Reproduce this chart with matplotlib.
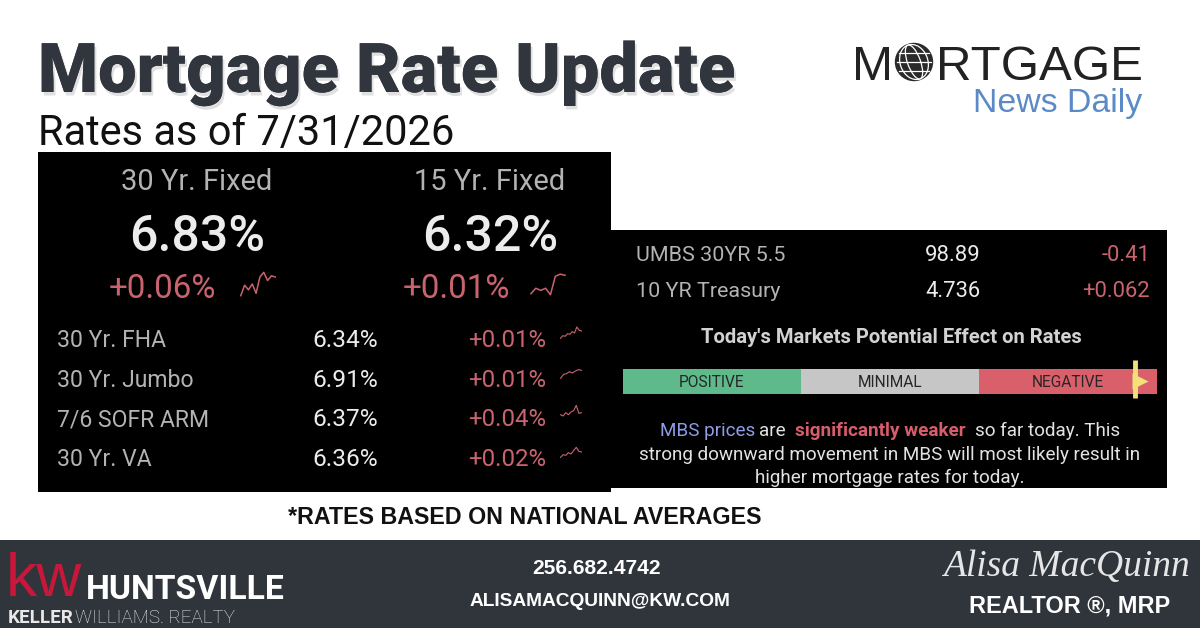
import matplotlib
matplotlib.use("Agg")
import matplotlib.pyplot as plt
from matplotlib.patches import Rectangle, Circle, Ellipse
import matplotlib.patheffects as pe
import numpy as np

# ---------------- data ----------------
title = "Mortgage Rate Update"
subtitle = "Rates as of 7/31/2026"

main_products = ["30 Yr. Fixed", "15 Yr. Fixed"]
main_rates = [6.83, 6.32]
main_changes = [0.06, 0.01]
spark_30fixed = [0.0, 0.45, 0.25, 0.5, 0.1, 0.8, 1.0, 0.65, 0.85, 0.8]
spark_15fixed = [0.1, 0.35, 0.25, 0.35, 0.05, 0.9, 1.0, 0.95]

row_products = ["30 Yr. FHA", "30 Yr. Jumbo", "7/6 SOFR ARM", "30 Yr. VA"]
row_rates = [6.34, 6.91, 6.37, 6.36]
row_changes = [0.01, 0.01, 0.04, 0.02]
row_sparks = [
    [0.1, 0.3, 0.25, 0.45, 0.4, 0.6, 0.5, 0.95, 0.7, 0.65],
    [0.1, 0.4, 0.45, 0.6, 0.5, 0.65, 0.75, 0.7],
    [0.3, 0.2, 0.45, 0.3, 0.5, 0.6, 1.0, 0.4, 0.45],
    [0.1, 0.3, 0.25, 0.45, 0.35, 0.6, 0.85, 0.55, 0.5],
]

market_names = ["UMBS 30YR 5.5", "10 YR Treasury"]
market_values = ["98.89", "4.736"]
market_changes = ["-0.41", "+0.062"]

gauge_labels = ["POSITIVE", "MINIMAL", "NEGATIVE"]
gauge_widths = [1, 1, 1]
gauge_marker = 2.876

effect_title = "Today's Markets Potential Effect on Rates"
note = "*RATES BASED ON NATIONAL AVERAGES"

# ---------------- style ----------------
W, H = 1200, 628
BLACK = "#000000"
PINK = "#c9646f"
GREY_TXT = "#b3b3b3"
WHITE_TXT = "#ececec"
DARK = "#31363e"
FOOT = "#30353c"
SANS = ["Liberation Sans", "DejaVu Sans"]
UI = ["Roboto", "DejaVu Sans"]


def pt(px):
    return px * 0.72


fig = plt.figure(figsize=(12, 6.28), dpi=100)
fig.patch.set_facecolor("white")
ax = fig.add_axes([0, 0, 1, 1])
ax.set_xlim(0, W)
ax.set_ylim(H, 0)
ax.axis("off")
renderer = fig.canvas.get_renderer()


def twidth(s, **kw):
    t = ax.text(0, 0, s, **kw)
    w = t.get_window_extent(renderer).width
    t.remove()
    return w


def fit_text(x, y, s, width, **kw):
    """Place text with its font size chosen so that it spans `width` pixels."""
    fs = kw.pop("fontsize", 20)
    w = twidth(s, fontsize=fs, **kw)
    return ax.text(x, y, s, fontsize=fs * width / w, **kw)


def px_axes(x0, y0, x1, y1):
    a = fig.add_axes([x0 / W, 1 - y1 / H, (x1 - x0) / W, (y1 - y0) / H])
    a.axis("off")
    a.patch.set_alpha(0)
    return a


def spark(x0, y0, x1, y1, vals, lw=1.0):
    a = px_axes(x0, y0, x1, y1)
    a.plot(range(len(vals)), vals, color=PINK, lw=lw, solid_joinstyle="round")
    a.set_xlim(-0.2, len(vals) - 0.8)
    a.set_ylim(-0.1, 1.1)


# ---------------- header ----------------
fit_text(38, 92, title, 697, fontsize=pt(80), fontweight="black", family=UI,
         color=DARK, ha="left", va="baseline",
         path_effects=[pe.withSimplePatchShadow(offset=(1.5, -2.5), shadow_rgbFace="#999999", alpha=0.3),
                       pe.Normal()])
fit_text(38, 145, subtitle, 417, fontsize=pt(40), family=UI, color="#111111",
         ha="left", va="baseline")

# Mortgage News Daily logo
fit_text(852, 80, "M", 41, fontsize=pt(51), family=SANS, color="#222222", ha="left", va="baseline")
gx, gy, gr = 914, 62, 18.5
ax.add_patch(Circle((gx, gy), gr, facecolor="#2a2a2a", edgecolor="#2a2a2a", lw=1))
for wfrac in [0.35, 0.75]:
    ax.add_patch(Ellipse((gx, gy), 2 * gr * wfrac, 2 * gr * 0.97, angle=-20,
                         fill=False, edgecolor="white", lw=0.9))
for dy in [-0.5, 0.0, 0.5]:
    half = gr * np.sqrt(1 - dy ** 2) * 0.92
    ax.plot([gx - half, gx + half], [gy + dy * gr, gy + dy * gr], color="white", lw=0.9)
fit_text(936, 80, "RTGAGE", 207, fontsize=pt(51), family=SANS, color="#222222", ha="left", va="baseline")
fit_text(973, 112, "News Daily", 170, fontsize=pt(33), family=SANS, color="#5b8ac6", ha="left", va="baseline")

# ---------------- left panel ----------------
ax.add_patch(Rectangle((38, 152), 573, 340, facecolor=BLACK, edgecolor="none"))
main_cx = [197, 490]
change_cx = [162, 456]
spark_boxes = [(240, 270, 276, 298), (530, 272, 566, 298)]
main_sparks = [spark_30fixed, spark_15fixed]
for i in range(2):
    ax.text(main_cx[i], 190, main_products[i], fontsize=pt(29), family=UI, color=GREY_TXT,
            ha="center", va="baseline")
    ax.text(main_cx[i], 251, f"{main_rates[i]:.2f}%", fontsize=pt(50), family=UI,
            fontweight="medium", color=WHITE_TXT, ha="center", va="baseline")
    ax.text(change_cx[i], 298, f"{main_changes[i]:+.2f}%", fontsize=pt(33), family=UI,
            color=PINK, ha="center", va="baseline")
    spark(*spark_boxes[i], main_sparks[i], lw=1.1)

row_base = [347, 387, 426, 466]
for i in range(4):
    b = row_base[i]
    ax.text(57, b, row_products[i], fontsize=pt(23), family=UI, color=GREY_TXT,
            ha="left", va="baseline")
    ax.text(378, b, f"{row_rates[i]:.2f}%", fontsize=pt(24.5), family=UI, color=WHITE_TXT,
            ha="right", va="baseline")
    ax.text(546, b, f"{row_changes[i]:+.2f}%", fontsize=pt(24), family=UI, color=PINK,
            ha="right", va="baseline")
    spark(560, b - 22, 582, b - 6, row_sparks[i], lw=0.8)

# ---------------- right panel ----------------
ax.add_patch(Rectangle((610, 230), 557, 258, facecolor=BLACK, edgecolor="none"))
mkt_base = [261, 297]
for i in range(2):
    ax.text(636, mkt_base[i], market_names[i], fontsize=pt(21.5), family=UI, color=GREY_TXT,
            ha="left", va="baseline")
    ax.text(981, mkt_base[i], market_values[i], fontsize=pt(22), family=UI, color=WHITE_TXT,
            ha="right", va="baseline")
    ax.text(1150, mkt_base[i], market_changes[i], fontsize=pt(22), family=UI, color=PINK,
            ha="right", va="baseline")

ax.text(891, 343, effect_title, fontsize=pt(20.3), family=UI, fontweight="bold",
        color="#d2d2d2", ha="center", va="baseline")

gax = px_axes(623, 369, 1157, 394)
gax.set_xlim(0, sum(gauge_widths))
gax.set_ylim(-0.5, 0.5)
lefts = np.cumsum([0] + gauge_widths[:-1])
gax.barh(0, gauge_widths, left=lefts, height=1.0,
         color=["#5fba8b", "#c6c6c6", "#d95f6a"], edgecolor="none")
for l, w, lab in zip(lefts, gauge_widths, gauge_labels):
    gax.text(l + w / 2, -0.03, lab, fontsize=pt(15.5), family=UI, color="#262626",
             ha="center", va="center")
gax.plot([gauge_marker, gauge_marker], [-0.66, 0.86], color="#f3e07a", lw=3.5,
         clip_on=False, solid_capstyle="butt")
gax.plot(gauge_marker + 0.03, 0.02, marker=">", ms=11, color="#f3e07a", mec="none",
         clip_on=False)

# paragraph with coloured runs
PFS = pt(18.9)
base_kw = dict(fontsize=PFS, family=UI)
space = twidth("a a", **base_kw) - twidth("aa", **base_kw)
runs = [("MBS prices", "#8e9de6", "normal", 1),
        ("are", "#e2e2e2", "normal", 2),
        ("significantly weaker", "#d75d6b", "bold", 2),
        ("so far today. This", "#e2e2e2", "normal", 0)]
widths = [twidth(s, fontsize=PFS, family=UI, fontweight=fw) for s, c, fw, g in runs]
total = sum(widths) + sum(g * space for s, c, fw, g in runs)
x = 890 - total / 2
for (s, c, fw, g), w in zip(runs, widths):
    ax.text(x, 436, s, fontsize=PFS, family=UI, fontweight=fw, color=c, ha="left", va="baseline")
    x += w + g * space
ax.text(890, 460, "strong downward movement in MBS will most likely result in", fontsize=PFS,
        family=UI, color="#e2e2e2", ha="center", va="baseline")
ax.text(890, 483, "higher mortgage rates for today.", fontsize=PFS,
        family=UI, color="#e2e2e2", ha="center", va="baseline")

# ---------------- note ----------------
ax.text(525, 524, note, fontsize=pt(23.3), family=SANS, fontweight="bold", color="#111111",
        ha="center", va="baseline")

# ---------------- footer ----------------
ax.add_patch(Rectangle((0, 540), W, H - 540, facecolor=FOOT, edgecolor="none"))
fit_text(6, 596, "kw", 76, fontsize=pt(60), family=SANS, color="#c8173a", ha="left", va="baseline")
fit_text(86, 599, "HUNTSVILLE", 199, fontsize=pt(40), family=UI, fontweight="bold",
         color="white", ha="left", va="baseline")
kfs = pt(21)
k1 = twidth("KELLER", fontsize=kfs, family=UI, fontweight="bold")
k2 = twidth("WILLIAMS. REALTY", fontsize=kfs, family=UI, fontweight="light")
kfs = kfs * 225 / (k1 + k2 + 1)
k1 = twidth("KELLER", fontsize=kfs, family=UI, fontweight="bold")
ax.text(8, 623, "KELLER", fontsize=kfs, family=UI, fontweight="bold", color="#e8e8e8",
        ha="left", va="baseline")
ax.text(8 + k1 + 1, 623, "WILLIAMS. REALTY", fontsize=kfs, family=UI, fontweight="light",
        color="#e8e8e8", ha="left", va="baseline")

ax.text(597, 574, "256.682.4742", fontsize=pt(21), family=SANS, fontweight="bold",
        color="white", ha="center", va="baseline")
ax.text(600, 606, "ALISAMACQUINN@KW.COM", fontsize=pt(19.2), family=SANS, fontweight="bold",
        color="white", ha="center", va="baseline")

fit_text(943, 576, "Alisa MacQuinn", 247, fontsize=pt(32), family=["Liberation Serif", "DejaVu Serif"],
         style="italic", color="#e6e6e6", ha="left", va="baseline")
ax.text(1070, 613, "REALTOR \u00ae, MRP", fontsize=pt(23.5), family=SANS, fontweight="bold",
        color="white", ha="center", va="baseline")

fig.savefig("out.png", dpi=100, facecolor="white")
